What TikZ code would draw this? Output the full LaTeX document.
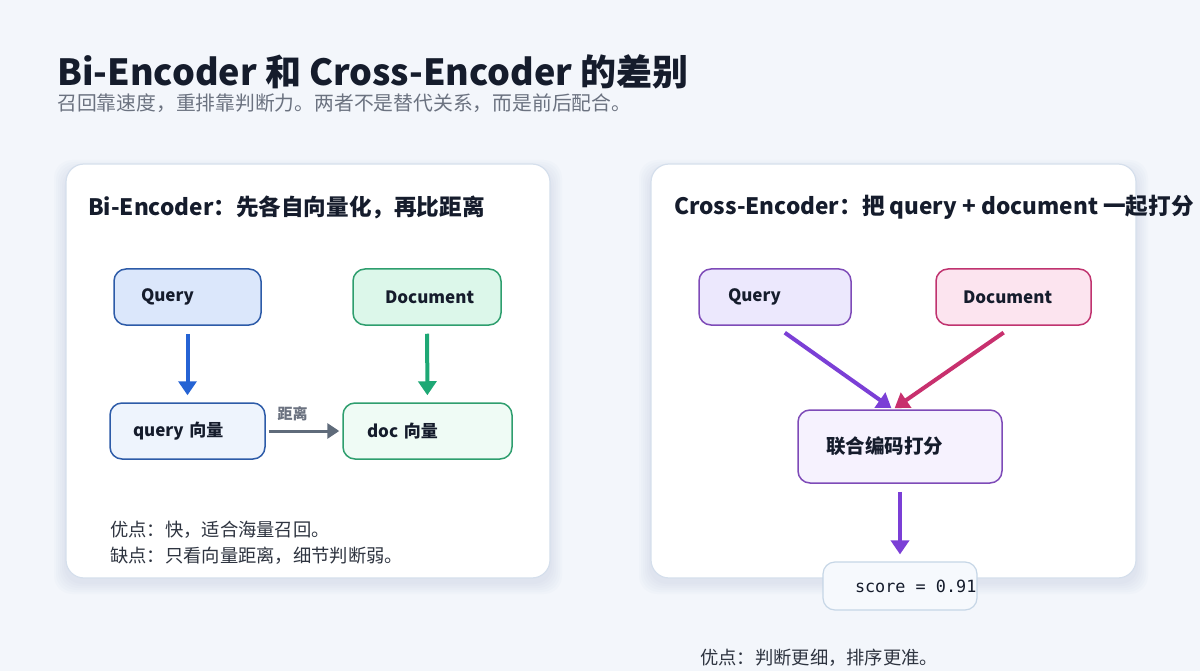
\documentclass[tikz,border=0pt]{standalone}
\usepackage{fontspec}
\setmainfont{Noto Sans CJK SC}
\setmonofont{DejaVu Sans Mono}
\usepackage{xcolor}
\definecolor{PageBg}{HTML}{F3F6FB}
\definecolor{Ink}{HTML}{151C2C}
\definecolor{SubInk}{HTML}{6B7280}
\definecolor{BodyInk}{HTML}{2E3440}
\definecolor{PanelLine}{HTML}{D5DFEC}
\definecolor{ShadowBlue}{HTML}{8FA6C4}
\definecolor{EncBlue}{HTML}{2D5BA8}
\definecolor{EncBlueFill}{HTML}{DBE7FB}
\definecolor{EncBlueLight}{HTML}{EEF4FD}
\definecolor{ArrBlue}{HTML}{2563D4}
\definecolor{EncGreen}{HTML}{2E9E6E}
\definecolor{EncGreenFill}{HTML}{DCF7EA}
\definecolor{EncGreenLight}{HTML}{EFFBF5}
\definecolor{ArrGreen}{HTML}{1EA875}
\definecolor{ArrGray}{HTML}{5F6B7A}
\definecolor{CrPurple}{HTML}{7E4BB8}
\definecolor{CrPurpleFill}{HTML}{ECE8FD}
\definecolor{CrPurpleLight}{HTML}{F6F2FE}
\definecolor{ArrPurple}{HTML}{7B3FD6}
\definecolor{CrPink}{HTML}{C0336F}
\definecolor{CrPinkFill}{HTML}{FCE4EF}
\definecolor{ArrPink}{HTML}{C8306E}
\definecolor{ScoreLine}{HTML}{C6D6E6}
\definecolor{ScoreFill}{HTML}{F6F9FD}
\usetikzlibrary{math,arrows.meta}

\begin{document}
\begin{tikzpicture}[x=1pt,y=-1pt,
    box/.style={rounded corners=12pt, line width=1.5pt, align=left,
      minimum height=56pt, inner ysep=0pt,
      font=\bfseries\fontsize{17}{20}\selectfont, text=Ink},
    flow/.style={-{Triangle[length=14pt,width=18pt]}, line width=4pt},
    panel/.style={fill=white, draw=PanelLine, line width=1.2pt, rounded corners=18pt},
    head/.style={anchor=west, inner sep=0pt, font=\bfseries\fontsize{22.6}{26}\selectfont, text=Ink},
    note/.style={anchor=west, inner sep=0pt, font=\fontsize{18.3}{22}\selectfont, text=BodyInk}]
    \tikzmath{
      \sh=12; % shadow spread
    }
    \useasboundingbox (0,0) rectangle (1200,671);
    \fill[PageBg] (0,0) rectangle (1200,671);
    % soft shadows under the panels
    \foreach \s in {2,4,...,\sh} {
      \fill[ShadowBlue,opacity=0.03,rounded corners=18pt]
        (66-\s,164-\s+8) rectangle (550+\s,578+\s+4);
      \fill[ShadowBlue,opacity=0.03,rounded corners=18pt]
        (651-\s,164-\s+8) rectangle (1136+\s,578+\s+4);
    }
    \path[panel] (66,164) rectangle (550,578);
    \path[panel] (651,164) rectangle (1136,578);

    \node[anchor=base west, font=\bfseries\fontsize{36}{40}\selectfont, text=Ink, inner sep=0pt]
      (title) at (57,86) {Bi-Encoder 和 Cross-Encoder 的差别};
    \node[anchor=base west, font=\fontsize{19.8}{22}\selectfont, text=SubInk, inner sep=0pt]
      (subtitle) at (57,111) {召回靠速度，重排靠判断力。两者不是替代关系，而是前后配合。};

    % Bi-Encoder
    \node[head] (bihead) at (88,207) {Bi-Encoder：先各自向量化，再比距离};
    \node[box, fill=EncBlueFill, draw=EncBlue, text width=93pt, inner xsep=27pt]
      (biquery) at (187.5,297) {Query};
    \node[box, fill=EncGreenFill, draw=EncGreen, text width=84pt, inner xsep=32pt]
      (bidoc) at (427,297) {Document};
    \node[box, fill=EncBlueLight, draw=EncBlue, text width=109pt, inner xsep=23pt]
      (qvec) at (187.5,431) {query 向量};
    \node[box, fill=EncGreenLight, draw=EncGreen, text width=121pt, inner xsep=24pt]
      (dvec) at (427.5,431) {doc 向量};
    \draw[flow, draw=ArrBlue, fill=ArrBlue, shorten <=8pt, shorten >=7pt] (biquery) -- (qvec);
    \draw[flow, draw=ArrGreen, fill=ArrGreen, shorten <=8pt, shorten >=7pt] (bidoc) -- (dvec);
    \draw[-{Triangle[length=12pt,width=15pt]}, draw=ArrGray, line width=3pt,
      shorten <=3pt, shorten >=3pt] (qvec) -- (dvec)
      node[pos=0.35, above=5pt, font=\bfseries\fontsize{15}{17}\selectfont, text=SubInk] (dist) {距离};
    \node[note] (bipro) at (110,530) {优点：快，适合海量召回。};
    \node[note] (bicon) at (110,556) {缺点：只看向量距离，细节判断弱。};

    % Cross-Encoder
    \node[head] (crhead) at (674,207) {Cross-Encoder：把 query + document 一起打分};
    \node[box, fill=CrPurpleFill, draw=CrPurple, text width=94pt, inner xsep=29pt]
      (crquery) at (775,297) {Query};
    \node[box, fill=CrPinkFill, draw=CrPink, text width=101pt, inner xsep=27pt]
      (crdoc) at (1013.5,297) {Document};
    \node[box, fill=CrPurpleLight, draw=CrPurple, text width=148pt, inner xsep=28pt,
      minimum height=73pt, font=\bfseries\fontsize{19.5}{22}\selectfont]
      (joint) at (900,446.5) {联合编码打分};
    \node[box, fill=ScoreFill, draw=ScoreLine, line width=1.2pt, minimum height=48pt,
      inner xsep=32pt, font=\ttfamily\fontsize{16.8}{20}\selectfont]
      (score) at (900,586) {\makebox[90pt][l]{score = 0.91}};
    \draw[flow, draw=ArrPurple, shorten <=12pt, shorten >=2pt] (crquery.south) -- ([xshift=-7pt]joint.north);
    \draw[flow, draw=ArrPink, shorten <=12pt, shorten >=2pt] (crdoc.south) -- ([xshift=-7pt]joint.north);
    \draw[flow, draw=ArrPurple, shorten <=8pt, shorten >=7pt] (joint) -- (score);
    \node[note] (crpro) at (700,658) {优点：判断更细，排序更准。};
\end{tikzpicture}
\end{document}
